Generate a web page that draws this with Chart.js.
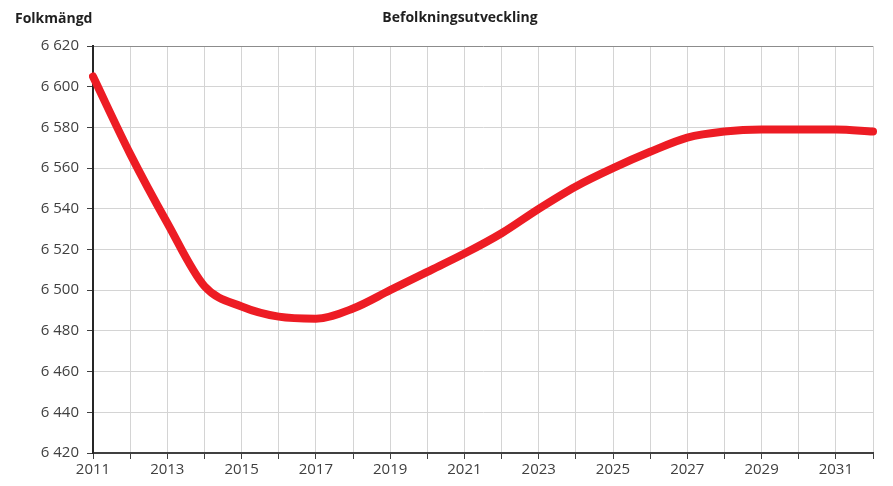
<!DOCTYPE html>
<html>
<head>
<meta charset="utf-8">
<script src="https://cdn.jsdelivr.net/npm/chart.js@4/dist/chart.umd.min.js"></script>
<style>
  html, body { margin: 0; padding: 0; background: #fff; }
  #wrap { width: 893px; height: 486px; }
</style>
</head>
<body>
<div id="wrap"><canvas id="myChart" width="893" height="486"></canvas></div>
<script>
var years = ['2011', '2012', '2013', '2014', '2015', '2016', '2017', '2018', '2019', '2020', '2021',
             '2022', '2023', '2024', '2025', '2026', '2027', '2028', '2029', '2030', '2031', '2032'];
var population = [6605, 6567, 6533, 6502, 6492, 6487, 6486, 6491, 6500, 6509, 6518,
                  6528, 6540, 6551, 6560, 6568, 6575, 6578, 6579, 6579, 6579, 6578];
var yMin = 6420;
var yMax = 6620;
var yStep = 20;
var chartTitle = 'Befolkningsutveckling';
var yTitle = 'Folkmängd';

var textFont = '"Open Sans", "Liberation Sans", sans-serif';

// title and axis caption drawn as canvas text
var headerText = {
    id: 'headerText',
    afterDraw: function(chart) {
        var ctx = chart.ctx;
        ctx.save();
        ctx.fillStyle = '#1f1f1f';
        ctx.font = 'bold 14px ' + textFont;
        ctx.textBaseline = 'middle';
        ctx.textAlign = 'center';
        ctx.fillText(chartTitle, 460, 18);
        ctx.textAlign = 'left';
        ctx.fillText(yTitle, 15, 19);
        ctx.restore();
    }
};

window.onload = function() {
    var ctx = document.getElementById('myChart').getContext('2d');
    var myChart = new Chart(ctx, {
        type: 'line',
        data: {
            labels: years,
            datasets: [{
                label: 'Folkmängd',
                data: population,
                borderColor: '#ED1C24',
                backgroundColor: '#ED1C24',
                borderWidth: 8,
                borderCapStyle: 'round',
                borderJoinStyle: 'round',
                pointRadius: 0,
                cubicInterpolationMode: 'monotone',
                fill: false
            }]
        },
        options: {
            responsive: false,
            animation: false,
            layout: { padding: { top: 46, right: 20, left: 0, bottom: 0 } },
            plugins: {
                legend: { display: false },
                tooltip: { enabled: false }
            },
            scales: {
                x: {
                    offset: false,
                    grid: {
                        color: '#d4d4d4',
                        tickColor: '#404040',
                        tickLength: 6,
                        lineWidth: 1
                    },
                    border: { color: '#404040', width: 2 },
                    ticks: {
                        autoSkip: false,
                        maxRotation: 0,
                        padding: 2,
                        color: '#404040',
                        font: { family: textFont, size: 15 },
                        callback: function(value, index) {
                            return index % 2 === 0 ? this.getLabelForValue(value) : '';
                        }
                    },
                    afterFit: function(scale) { scale.height = 33; }
                },
                y: {
                    min: yMin,
                    max: yMax,
                    grid: {
                        color: function(c) { return c.tick && c.tick.value === yMax ? '#8c8c8c' : '#d4d4d4'; },
                        tickColor: '#404040',
                        tickLength: 6,
                        lineWidth: 1
                    },
                    border: { color: '#262626', width: 2 },
                    ticks: {
                        stepSize: yStep,
                        padding: 8,
                        color: '#404040',
                        font: { family: textFont, size: 15 },
                        callback: function(value) {
                            var s = String(value);
                            return s.slice(0, s.length - 3) + ' ' + s.slice(-3);
                        }
                    },
                    afterFit: function(scale) { scale.width = 93; }
                }
            }
        },
        plugins: [headerText]
    });
};
</script>
</body>
</html>
